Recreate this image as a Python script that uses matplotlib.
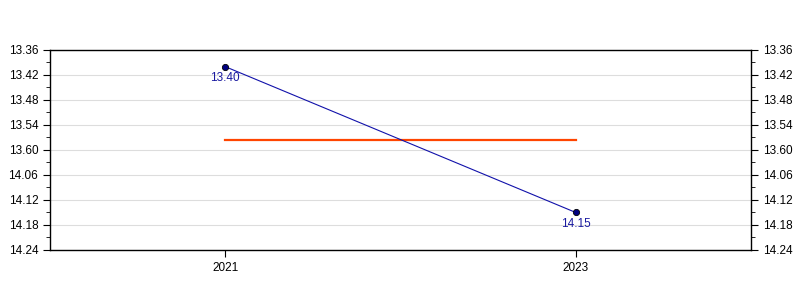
import matplotlib
matplotlib.use("Agg")
import matplotlib.pyplot as plt
from matplotlib.ticker import MultipleLocator

plt.rcParams['font.family'] = ['Liberation Sans', 'DejaVu Sans']

years = [2021, 2023]
values_sec = [820, 855]          # 13:40, 14:15
value_labels = ["13.40", "14.15"]
mean_sec = sum(values_sec) / len(values_sec)
ytick_vals = [816, 822, 828, 834, 840, 846, 852, 858, 864]
ytick_labels = ["13.36", "13.42", "13.48", "13.54", "13.60", "14.06", "14.12", "14.18", "14.24"]

fig = plt.figure(figsize=(8, 3), dpi=100)
ax = fig.add_axes([0.0625, 0.1667, 0.87625, 0.6667])

ax.set_xlim(2020, 2024)
ax.set_ylim(864, 816)

ax.set_yticks(ytick_vals)
ax.set_yticklabels(ytick_labels)
ax.yaxis.set_minor_locator(MultipleLocator(3))
ax.set_xticks(years)
ax.set_xticklabels([str(y) for y in years])

ax.grid(axis='y', color='#dddddd', linewidth=0.8)
ax.set_axisbelow(True)

ax.plot(years, [mean_sec, mean_sec], color='#ff4500', linewidth=1.6, zorder=2)
ax.plot(years, values_sec, color='#1111aa', linewidth=0.8, marker='o', markersize=4.5,
        markerfacecolor='#000080', markeredgecolor='#000000', markeredgewidth=0.6, zorder=3)
for x, y, t in zip(years, values_sec, value_labels):
    ax.annotate(t, (x, y), xytext=(0, -4), textcoords='offset points', ha='center', va='top',
                color='#1a1aa0', fontsize=8.5)

ax.tick_params(axis='y', which='both', left=True, right=True, labelleft=True, labelright=True,
               direction='out', labelsize=8.5, colors='black')
ax.tick_params(axis='y', which='major', length=5)
ax.tick_params(axis='y', which='minor', length=3)
ax.tick_params(axis='x', which='major', length=5, labelsize=8.5, pad=4)
for s in ax.spines.values():
    s.set_linewidth(1.0)
    s.set_color('black')

fig.savefig('out.png', dpi=100)
